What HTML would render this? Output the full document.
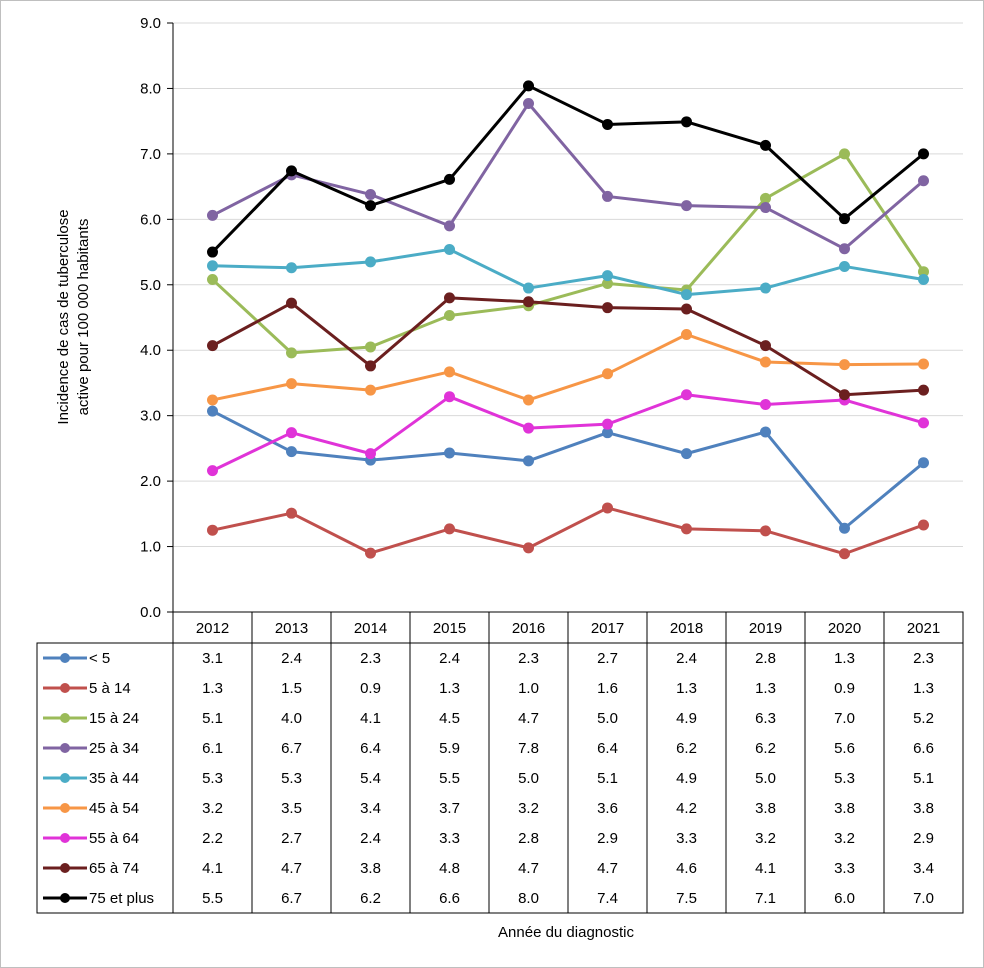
<!DOCTYPE html>
<html><head><meta charset="utf-8"><style>
body{margin:0;background:#fff;}
#wrap{position:relative;width:984px;height:968px;box-sizing:border-box;border:1px solid #bfbfbf;overflow:hidden}
svg text{font-family:"Liberation Sans",sans-serif;font-size:15px;fill:#000}
</style></head><body>
<div id="wrap">
<svg id="chart" width="984" height="968"></svg>
</div>
<script>
const years=[2012,2013,2014,2015,2016,2017,2018,2019,2020,2021];
const seriesNames=["< 5","5 à 14","15 à 24","25 à 34","35 à 44","45 à 54","55 à 64","65 à 74","75 et plus"];
const colors=["#4f81bd","#c0504d","#9bbb59","#8064a2","#4bacc6","#f79646","#e033d8","#6b1f1f","#000000"];
const vLt5=[3.07,2.45,2.32,2.43,2.31,2.74,2.42,2.75,1.28,2.28];
const v5to14=[1.25,1.51,0.90,1.27,0.98,1.59,1.27,1.24,0.89,1.33];
const v15to24=[5.08,3.96,4.05,4.53,4.68,5.02,4.92,6.32,7.0,5.2];
const v25to34=[6.06,6.68,6.38,5.9,7.77,6.35,6.21,6.18,5.55,6.59];
const v35to44=[5.29,5.26,5.35,5.54,4.95,5.14,4.85,4.95,5.28,5.08];
const v45to54=[3.24,3.49,3.39,3.67,3.24,3.64,4.24,3.82,3.78,3.79];
const v55to64=[2.16,2.74,2.42,3.29,2.81,2.87,3.32,3.17,3.24,2.89];
const v65to74=[4.07,4.72,3.76,4.8,4.74,4.65,4.63,4.07,3.32,3.39];
const v75plus=[5.5,6.74,6.21,6.61,8.04,7.45,7.49,7.13,6.01,7.0];
const tLt5=["3.1","2.4","2.3","2.4","2.3","2.7","2.4","2.8","1.3","2.3"];
const t5to14=["1.3","1.5","0.9","1.3","1.0","1.6","1.3","1.3","0.9","1.3"];
const t15to24=["5.1","4.0","4.1","4.5","4.7","5.0","4.9","6.3","7.0","5.2"];
const t25to34=["6.1","6.7","6.4","5.9","7.8","6.4","6.2","6.2","5.6","6.6"];
const t35to44=["5.3","5.3","5.4","5.5","5.0","5.1","4.9","5.0","5.3","5.1"];
const t45to54=["3.2","3.5","3.4","3.7","3.2","3.6","4.2","3.8","3.8","3.8"];
const t55to64=["2.2","2.7","2.4","3.3","2.8","2.9","3.3","3.2","3.2","2.9"];
const t65to74=["4.1","4.7","3.8","4.8","4.7","4.7","4.6","4.1","3.3","3.4"];
const t75plus=["5.5","6.7","6.2","6.6","8.0","7.4","7.5","7.1","6.0","7.0"];
const yTicks=[0,1,2,3,4,5,6,7,8,9];

const values=[vLt5,v5to14,v15to24,v25to34,v35to44,v45to54,v55to64,v65to74,v75plus];
const labels=[tLt5,t5to14,t15to24,t25to34,t35to44,t45to54,t55to64,t65to74,t75plus];
const NS="http://www.w3.org/2000/svg";
const svg=document.getElementById('chart');
const L=172,R=962,T=22,B=611,colW=(R-L)/years.length;
const x=i=>L+colW*(i+0.5);
const y=v=>B-(B-T)*v/9;
function el(tag,attrs,parent){const e=document.createElementNS(NS,tag);for(const k in attrs)e.setAttribute(k,attrs[k]);(parent||svg).appendChild(e);return e;}
yTicks.forEach(t=>{
  const g=el('line',{x1:L,x2:R,y1:y(t),y2:y(t),stroke:t===0?'#000':'#d9d9d9','stroke-width':1});
  
  
  el('line',{x1:L-6,x2:L,y1:y(t),y2:y(t),stroke:'#000'});
  const tx=el('text',{x:L-12,y:y(t)+5,'text-anchor':'end'});
  tx.textContent=t.toFixed(1);
  
  
});
el('line',{x1:L,x2:L,y1:T,y2:B,stroke:'#000'});
const yt=el('text',{transform:'translate(67,316) rotate(-90)','text-anchor':'middle','font-size':'16'});


const ts1=el('tspan',{x:0,dy:0},yt);ts1.textContent='Incidence de cas de tuberculose';
const ts2=el('tspan',{x:0,dy:20},yt);ts2.textContent='active pour 100 000 habitants';
values.forEach((vals,s)=>{
  const g=el('g',{});
  
  
  el('polyline',{points:vals.map((v,i)=>x(i)+','+y(v)).join(' '),fill:'none',stroke:colors[s],'stroke-width':3,'stroke-linejoin':'round'},g);
  vals.forEach((v,i)=>{
    const c=el('circle',{cx:x(i),cy:y(v),r:5.5,fill:colors[s]},g);
    
    
  });
});
const TL=36,HT=611,HB=642,rowH=30,TB=HB+rowH*seriesNames.length;
const tb=el('g',{});


el('rect',{x:L,y:HT,width:R-L,height:HB-HT,fill:'none',stroke:'#000'},tb);
el('rect',{x:TL,y:HB,width:R-TL,height:TB-HB,fill:'none',stroke:'#000'},tb);
for(let i=0;i<=years.length;i++)el('line',{x1:L+colW*i,x2:L+colW*i,y1:HT,y2:TB,stroke:'#000'},tb);
years.forEach((yr,i)=>{
  const t=el('text',{x:x(i),y:HT+21,'text-anchor':'middle'},tb);t.textContent=yr;
  
  
});
seriesNames.forEach((n,s)=>{
  const cy=HB+rowH*s+rowH/2;
  const lg=el('g',{},tb);
  
  
  el('line',{x1:42,x2:86,y1:cy,y2:cy,stroke:colors[s],'stroke-width':3},lg);
  el('circle',{cx:64,cy:cy,r:5,fill:colors[s]},lg);
  const t=el('text',{x:88,y:cy+5},lg);t.textContent=n;
  labels[s].forEach((lab,i)=>{
    const c=el('text',{x:x(i),y:cy+5,'text-anchor':'middle'},tb);c.textContent=lab;
    
    
  });
});
const xt=el('text',{x:565,y:936,'text-anchor':'middle','font-size':'16'});
xt.textContent='Année du diagnostic';


</script>
</body></html>
